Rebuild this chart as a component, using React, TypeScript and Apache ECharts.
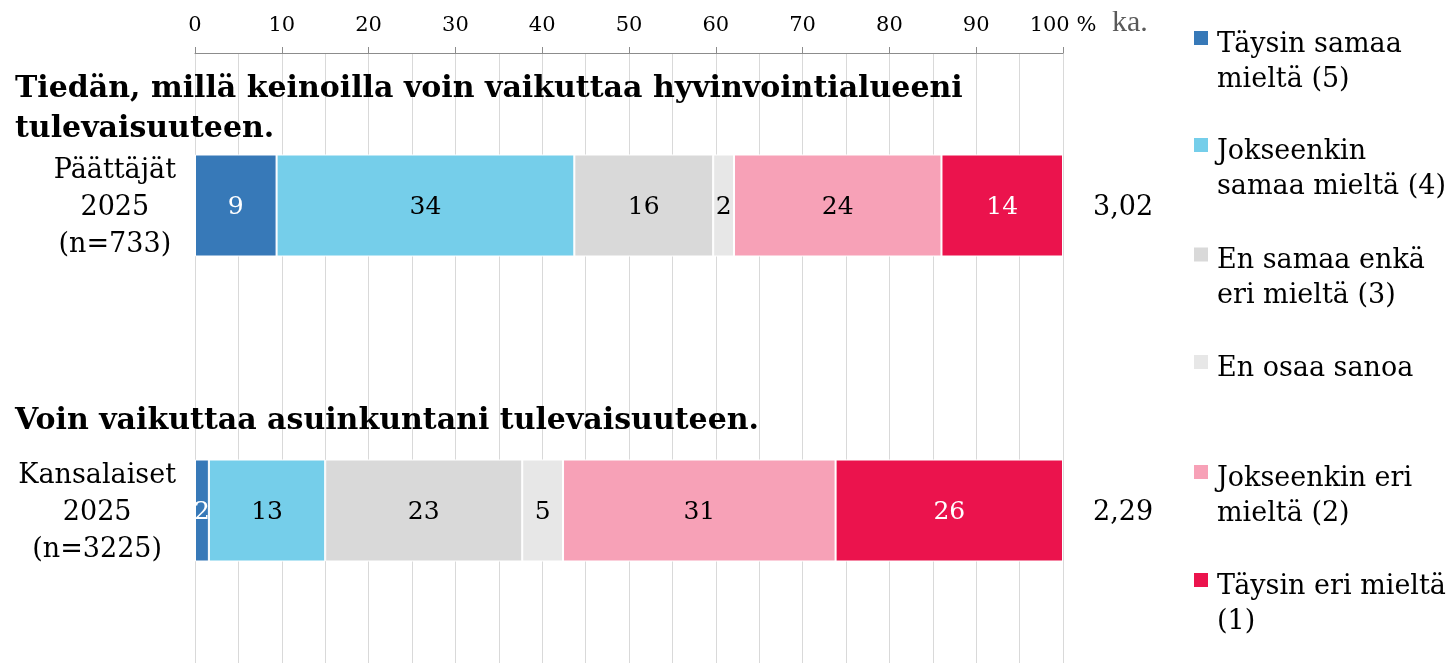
import React, { useEffect, useRef } from 'react';
import * as echarts from 'echarts';

const FONT = '"DejaVu Serif", Georgia, serif';

const categories = ['Päättäjät\n2025\n(n=733)', 'Kansalaiset\n2025\n(n=3225)'];
const questions = [
  'Tiedän, millä keinoilla voin vaikuttaa hyvinvointialueeni\ntulevaisuuteen.',
  'Voin vaikuttaa asuinkuntani tulevaisuuteen.',
];
const seriesNames = [
  'Täysin samaa mieltä (5)',
  'Jokseenkin samaa mieltä (4)',
  'En samaa enkä eri mieltä (3)',
  'En osaa sanoa',
  'Jokseenkin eri mieltä (2)',
  'Täysin eri mieltä (1)',
];
const legendLabels = [
  'Täysin samaa\nmieltä (5)',
  'Jokseenkin\nsamaa mieltä (4)',
  'En samaa enkä\neri mieltä (3)',
  'En osaa sanoa',
  'Jokseenkin eri\nmieltä (2)',
  'Täysin eri mieltä\n(1)',
];
const colors = ['#3779B8', '#75CEEA', '#D9D9D9', '#E7E7E7', '#F7A1B7', '#EB134D'];
const labelColors = ['#fff', '#000', '#000', '#000', '#000', '#fff'];

// values per series: [Päättäjät, Kansalaiset]
const paattajat = [9.4, 34.3, 16.0, 2.4, 23.9, 14.0];
const kansalaiset = [1.6, 13.4, 22.7, 4.7, 31.4, 26.2];
const means = [3.02, 2.29];

const legendTops = [24.5, 131.5, 241, 348.5, 458.5, 566.5];
// square marker at the top of the item; invisible point sets the item height
const ICON_TWO = 'path://M0,0h14v14h-14zM0,57h0.01';
const ICON_ONE = 'path://M0,0h14v14h-14zM0,22h0.01';

export default function App() {
  const ref = useRef<HTMLDivElement>(null);
  useEffect(() => {
    if (!ref.current) return;
    const chart = echarts.init(ref.current, undefined, { renderer: 'svg' });
    const option: any = {
      animation: false,
      title: [
        {
          text: questions[0],
          left: 10,
          top: 61,
          textStyle: { fontFamily: FONT, fontWeight: 'bold', fontSize: 30, lineHeight: 40, color: '#000' },
        },
        {
          text: questions[1],
          left: 10,
          top: 393,
          textStyle: { fontFamily: FONT, fontWeight: 'bold', fontSize: 30, lineHeight: 40, color: '#000' },
        },
      ],
      legend: seriesNames.map((name, i) => {
        const two = legendLabels[i].includes('\n');
        return {
          orient: 'vertical',
          left: 1194,
          top: legendTops[i],
          padding: 0,
          itemWidth: 14,
          itemHeight: two ? 57 : 22,
          icon: two ? ICON_TWO : ICON_ONE,
          itemStyle: { borderWidth: 0 },
          selectedMode: false,
          data: [name],
          formatter: () => legendLabels[i],
          textStyle: {
            fontFamily: FONT,
            fontSize: 27,
            lineHeight: 35,
            color: '#000',
            padding: [0, 0, 0, 4],
          },
        };
      }),
      grid: { left: 195, right: 392, top: 53, height: 614 },
      xAxis: {
        type: 'value',
        position: 'top',
        min: 0,
        max: 100,
        interval: 10,
        axisLine: { show: true, lineStyle: { color: '#8c8c8c' } },
        axisTick: { show: true, length: 6, lineStyle: { color: '#8c8c8c' } },
        axisLabel: {
          fontFamily: FONT,
          fontSize: 21,
          color: '#000',
          margin: 19,
          formatter: (v: number) => (v === 100 ? '100 %' : String(v)),
        },
        splitLine: { show: true, lineStyle: { color: '#d9d9d9' } },
        minorTick: { show: false, splitNumber: 2 },
        minorSplitLine: { show: true, lineStyle: { color: '#d9d9d9' } },
      },
      yAxis: [
        {
          type: 'category',
          data: categories,
          inverse: true,
          axisLine: { show: false },
          axisTick: { show: false },
          axisLabel: {
            margin: 19,
            formatter: (v: string) => v.split('\n').map((s) => `{c|${s}}`).join('\n'),
            rich: { c: { fontFamily: FONT, fontSize: 27, lineHeight: 37, align: 'center', color: '#000' } },
          },
        },
        {
          type: 'category',
          data: categories,
          inverse: true,
          position: 'right',
          axisLine: { show: false },
          axisTick: { show: false },
          axisLabel: {
            margin: 30,
            fontFamily: FONT,
            fontSize: 27,
            color: '#000',
            formatter: (_v: string, i: number) => means[i].toFixed(2).replace('.', ','),
          },
        },
      ],
      graphic: [
        {
          type: 'text',
          left: 1112,
          top: 5,
          style: { text: 'ka.', font: '30px "Liberation Serif", serif', fill: '#595959' },
        },
      ],
      series: seriesNames.map((name, i) => ({
        name,
        type: 'bar',
        stack: 'total',
        yAxisIndex: 0,
        barWidth: 102,
        data: [paattajat[i], kansalaiset[i]],
        itemStyle: { color: colors[i], borderColor: '#fff', borderWidth: 1 },
        label: {
          show: true,
          position: 'inside',
          fontFamily: FONT,
          fontSize: 25,
          color: labelColors[i],
          formatter: (p: any) => String(Math.round(p.value)),
        },
      })),
    };
    chart.setOption(option);
    return () => chart.dispose();
  }, []);
  return <div ref={ref} style={{ position: 'fixed', left: 0, top: 0, width: 1455, height: 663 }} />;
}
